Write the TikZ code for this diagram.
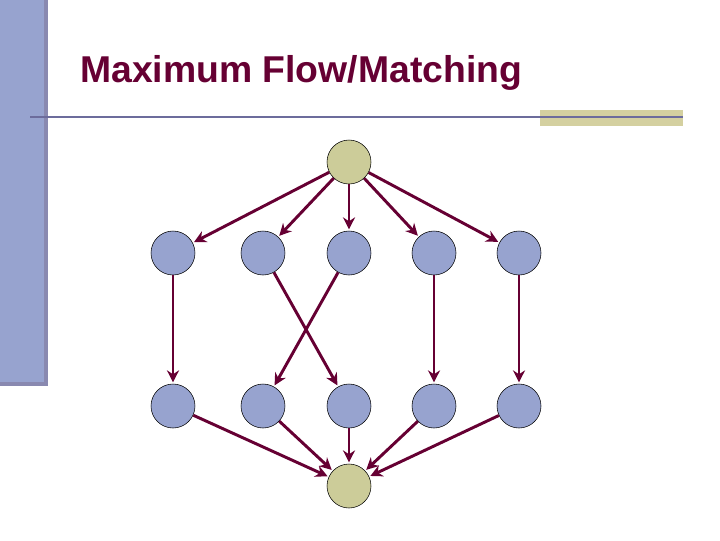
\documentclass[tikz,border=0pt]{standalone}
\usepackage{fontspec}
\setmainfont{Liberation Sans}
\usetikzlibrary{positioning,arrows.meta}
\definecolor{maroon}{HTML}{660033}
\definecolor{barblue}{HTML}{97A3CF}
\definecolor{lineblue}{HTML}{6C6C9C}
\definecolor{tan}{HTML}{CCCC99}
\definecolor{tanbar}{HTML}{D4D0A0}

\begin{document}
\begin{tikzpicture}[x=0.75pt,y=-0.75pt]
% Styles
\tikzset{
    vtx/.style={circle,draw=black,thin,fill=barblue,minimum size=33pt,inner sep=0pt},
    term/.style={vtx,fill=tan},
    flow/.style={draw=maroon,line width=2.2pt,-{Stealth[length=9pt,width=9pt]},shorten >=1pt}
}
\useasboundingbox (0,0) rectangle (720,540);

% Frame
\fill[barblue] (0,0) rectangle (48,385);
\fill[lineblue!80] (44,0) rectangle (48,385);
\fill[lineblue!80] (0,382) rectangle (48,386);
\fill[tanbar] (540,110) rectangle (683,126);
\draw[lineblue,line width=2pt] (30,117) -- (683,117);
\node[anchor=base west,text=maroon,font=\bfseries\fontsize{28}{32}\selectfont,inner sep=0pt] (title) at (80,82) {Maximum Flow/Matching};

% Nodes
\node[term] (s) at (349,162) {};
\node[term] (t) at (349,486) {};
\foreach \i/\x in {1/173,2/263,3/349,4/434,5/519}{
    \node[vtx] (a\i) at (\x,253) {};
    \node[vtx] (b\i) at (\x,406) {};
}

% Connections
\foreach \i in {1,...,5}{
    \draw[flow] (s) -- (a\i);
    \draw[flow] (b\i) -- (t);
}
\draw[flow] (a1) -- (b1);
\draw[flow] (a2) -- (b3);
\draw[flow] (a3) -- (b2);
\draw[flow] (a4) -- (b4);
\draw[flow] (a5) -- (b5);
\end{tikzpicture}
\end{document}
